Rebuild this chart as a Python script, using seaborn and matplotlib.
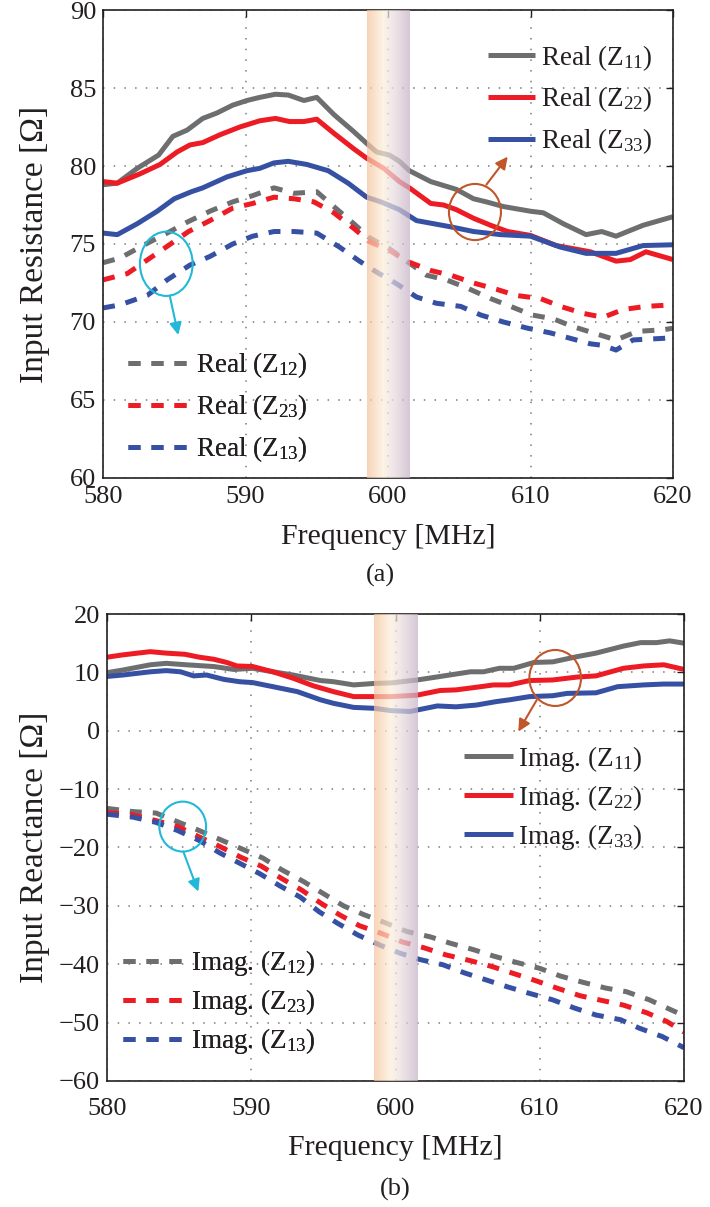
import numpy as np
import pandas as pd
import matplotlib
matplotlib.use("Agg")
import matplotlib.pyplot as plt
import seaborn as sns
from matplotlib.patches import Ellipse
from matplotlib.colors import LinearSegmentedColormap

# ---------------- data (a) : input resistance ----------------
R11_f = [580, 581.0, 582.4, 583.9, 584.9, 585.9, 587.0, 588.0, 589.1, 590.1, 591.0, 592.1, 593.0, 594.1, 595.0, 596.2, 597.6, 598.5, 599.2, 600.1, 600.8, 601.5, 603.0, 604.8, 606.0, 606.9, 608.1, 610.0, 610.9, 612.3, 613.9, 615.0, 616.0, 617.9, 620]
R11 = [78.8, 78.9, 79.85, 80.7, 81.9, 82.3, 83.05, 83.4, 83.9, 84.2, 84.4, 84.6, 84.55, 84.2, 84.4, 83.3, 82.2, 81.45, 80.9, 80.7, 80.3, 79.7, 79.0, 78.5, 77.9, 77.7, 77.4, 77.1, 77.0, 76.3, 75.6, 75.8, 75.5, 76.2, 76.75]

R22_f = [580, 581.0, 582.6, 584.0, 585.2, 586.1, 587.0, 588.2, 589.6, 591.0, 592.1, 593.1, 594.1, 595.0, 596.2, 597.6, 598.5, 599.7, 600.8, 601.5, 603.0, 603.9, 604.8, 606.0, 607.2, 608.4, 610.0, 611.8, 614.2, 616.0, 617.0, 618.1, 620]
R22 = [79.0, 78.9, 79.5, 80.1, 80.9, 81.35, 81.5, 82.0, 82.5, 82.9, 83.05, 82.85, 82.85, 83.0, 82.1, 81.1, 80.5, 79.85, 79.0, 78.6, 77.6, 77.5, 77.2, 76.65, 76.2, 75.8, 75.55, 74.9, 74.5, 73.9, 74.0, 74.5, 74.0]

R33_f = [580, 581.0, 582.4, 583.8, 585.0, 586.2, 587.0, 588.7, 590.1, 591.0, 592.0, 593.0, 594.3, 595.8, 597.2, 598.5, 599.5, 600.8, 602.0, 604.4, 606.0, 607.9, 610.0, 612.1, 613.9, 615.1, 616.0, 617.9, 620]
R33 = [75.7, 75.6, 76.3, 77.1, 77.9, 78.35, 78.6, 79.3, 79.7, 79.85, 80.2, 80.3, 80.1, 79.7, 78.9, 78.0, 77.7, 77.2, 76.5, 76.1, 75.8, 75.6, 75.5, 74.8, 74.4, 74.4, 74.4, 74.9, 74.95]

R12_f = [580, 581.2, 582.8, 584.5, 585.9, 587.5, 589.1, 590.5, 592.0, 593.4, 595.0, 596.2, 597.6, 598.7, 600.1, 601.3, 602.7, 604.1, 605.5, 607.2, 608.6, 610.1, 611.6, 613.0, 614.4, 616.0, 617.5, 619.3, 620]
R12 = [73.8, 74.1, 74.9, 75.7, 76.4, 77.1, 77.7, 78.1, 78.6, 78.25, 78.35, 77.4, 76.3, 75.4, 74.7, 73.9, 73.0, 72.7, 72.2, 71.5, 71.0, 70.45, 70.2, 69.7, 69.3, 68.85, 69.4, 69.5, 69.6]

R23_f = [580, 581.7, 583.3, 584.5, 586.0, 587.5, 589.1, 590.5, 592.0, 593.4, 594.8, 596.2, 597.6, 598.7, 600.1, 601.3, 603.0, 604.4, 606.0, 607.6, 609.0, 610.7, 612.1, 613.7, 615.1, 616.5, 618.1, 620]
R23 = [72.7, 73.1, 74.1, 74.85, 75.8, 76.5, 77.3, 77.6, 78.0, 77.9, 77.7, 77.0, 76.0, 75.15, 74.6, 73.9, 73.3, 73.0, 72.5, 72.1, 71.7, 71.5, 71.0, 70.55, 70.3, 70.8, 71.0, 71.1]

R13_f = [580, 581.2, 583.1, 584.5, 586.1, 587.5, 589.1, 590.5, 592.0, 593.4, 595.0, 596.6, 598.0, 599.2, 600.6, 602.0, 603.4, 605.1, 606.5, 608.1, 609.8, 611.4, 612.8, 614.2, 615.1, 616.0, 617.2, 619.3, 620]
R13 = [70.9, 71.1, 71.7, 72.7, 73.65, 74.2, 75.0, 75.5, 75.8, 75.8, 75.7, 74.8, 73.9, 73.2, 72.45, 71.6, 71.2, 71.0, 70.45, 70.0, 69.6, 69.3, 68.95, 68.6, 68.5, 68.2, 68.85, 68.95, 69.0]

# ---------------- data (b) : input reactance ----------------
I11_f = [580, 581.1, 583.0, 584.1, 585.5, 587.4, 588.8, 590.1, 591.5, 592.9, 594.8, 595.7, 597.1, 598.5, 599.7, 601.5, 603.1, 605.2, 606.1, 607.2, 608.2, 609.6, 610.9, 612.6, 613.9, 615.8, 617.0, 618.1, 619.0, 620]
I11 = [9.95, 10.4, 11.3, 11.55, 11.3, 11.0, 10.5, 10.7, 10.1, 9.55, 8.6, 8.4, 7.85, 8.1, 8.2, 8.7, 9.3, 10.1, 10.1, 10.7, 10.7, 11.7, 11.8, 12.7, 13.3, 14.5, 15.1, 15.1, 15.4, 15.0]

I22_f = [580, 581.1, 583.0, 584.1, 585.4, 586.4, 587.4, 588.3, 589.0, 590.1, 591.5, 592.9, 594.3, 595.7, 597.1, 598.5, 599.7, 601.5, 603.1, 604.2, 605.6, 606.8, 607.9, 609.3, 610.9, 612.6, 613.9, 615.8, 617.2, 618.6, 620]
I22 = [12.6, 13.0, 13.55, 13.3, 13.1, 12.6, 12.25, 11.7, 11.1, 11.0, 10.1, 9.0, 7.7, 6.7, 5.85, 5.85, 5.85, 6.1, 6.9, 7.0, 7.45, 7.85, 7.85, 8.6, 8.7, 9.2, 9.4, 10.7, 11.1, 11.3, 10.5]

I33_f = [580, 581.1, 583.0, 584.1, 585.1, 586.0, 586.9, 588.1, 589.2, 590.1, 592.0, 593.2, 594.8, 595.7, 597.1, 598.5, 599.7, 601.0, 602.9, 604.2, 605.6, 607.0, 607.9, 609.3, 610.9, 611.9, 613.9, 615.4, 617.2, 618.6, 620]
I33 = [9.3, 9.55, 10.1, 10.3, 10.1, 9.4, 9.55, 8.8, 8.4, 8.25, 7.3, 6.7, 5.3, 4.7, 4.0, 3.85, 3.45, 3.3, 4.25, 4.1, 4.4, 5.0, 5.3, 5.85, 6.0, 6.4, 6.5, 7.55, 7.85, 8.0, 8.0]

I12_f = [580, 581.8, 583.4, 584.9, 586.3, 587.9, 589.4, 590.8, 592.1, 593.6, 595.0, 596.4, 597.8, 599.3, 600.8, 602.4, 603.8, 605.4, 606.8, 608.4, 610.0, 611.4, 613.0, 614.6, 616.0, 617.6, 619.0, 620]
I12 = [-13.3, -13.85, -14.1, -15.6, -17.0, -18.7, -20.3, -21.8, -23.8, -25.8, -27.9, -30.0, -31.5, -32.9, -34.4, -35.3, -36.4, -37.5, -38.6, -39.7, -40.7, -42.0, -43.1, -44.1, -44.7, -46.1, -47.7, -48.8]

I23_f = [580, 581.8, 583.4, 584.9, 586.4, 587.8, 589.3, 590.7, 592.1, 593.5, 594.8, 596.1, 597.5, 599.0, 600.5, 602.0, 603.5, 605.2, 606.7, 608.2, 609.7, 611.2, 612.8, 614.3, 615.8, 617.4, 618.8, 620]
I23 = [-14.0, -14.4, -15.4, -16.4, -18.2, -19.8, -21.7, -23.2, -25.3, -27.3, -29.5, -31.5, -33.4, -34.7, -36.2, -37.2, -38.4, -39.4, -40.4, -41.6, -42.8, -44.1, -45.4, -46.2, -47.0, -48.3, -49.8, -51.6]

I13_f = [580, 581.8, 583.4, 584.9, 586.4, 587.8, 589.2, 590.6, 592.0, 593.4, 594.7, 596.0, 597.4, 598.9, 600.3, 601.7, 603.3, 604.8, 606.3, 607.8, 609.3, 610.9, 612.4, 613.9, 615.6, 616.9, 618.5, 620]
I13 = [-14.3, -14.8, -15.7, -17.1, -18.8, -20.9, -22.7, -24.5, -26.6, -28.5, -31.0, -33.0, -35.0, -36.7, -38.1, -39.2, -40.1, -41.5, -42.7, -43.9, -45.0, -46.1, -47.5, -48.7, -49.5, -50.95, -52.4, -54.3]

band = [598.5, 601.5]
xticks = [580, 590, 600, 610, 620]
yticks_a = [60, 65, 70, 75, 80, 85, 90]
yticks_b = [-60, -50, -40, -30, -20, -10, 0, 10, 20]

# ---------------- style ----------------
sns.set_theme(style="white")
plt.rcParams['font.family'] = ['Liberation Serif', 'DejaVu Serif']
plt.rcParams['mathtext.fontset'] = 'custom'
plt.rcParams['mathtext.rm'] = 'Liberation Serif'
plt.rcParams['mathtext.it'] = 'Liberation Serif'

GRAY = '#6d6e70'
RED = '#ed1c24'
BLUE = '#3651a3'
TXT = '#231f20'
LW = 3.6
DASH = (0, (2.4, 2.2))

fig = plt.figure(figsize=(7.10, 12.07), dpi=100)
axA = fig.add_axes([0.1451, 0.6040, 0.8028, 0.3877])
axB = fig.add_axes([0.1507, 0.1044, 0.8127, 0.3869])

band_cmap = LinearSegmentedColormap.from_list(
    'band', [(0.0, '#f5c39c'), (0.38, '#fdf0dc'), (0.62, '#e9dde0'), (1.0, '#c6b2c5')])


def draw(ax, series, ylim, yticks, xpad):
    for f, v, c, ls in series:
        d = pd.DataFrame({'f': f, 'v': v})
        sns.lineplot(data=d, x='f', y='v', ax=ax, color=c, linewidth=LW,
                     linestyle=ls, estimator=None, sort=False,
                     solid_capstyle='butt', dash_capstyle='butt', zorder=2)
    grad = np.linspace(0, 1, 256).reshape(1, -1)
    ax.imshow(grad, cmap=band_cmap, extent=[band[0], band[1], ylim[0], ylim[1]],
              aspect='auto', alpha=0.72, zorder=3, interpolation='bicubic')
    ax.set_xlim(580, 620)
    ax.set_ylim(*ylim)
    ax.set_xticks(xticks)
    ax.set_yticks(yticks)
    ax.grid(True, color='#7a7a7a', linestyle=(0, (1, 6)), linewidth=1.1)
    ax.tick_params(direction='in', length=5, width=1, top=True, right=True,
                   labelsize=19, colors=TXT, pad=5)
    ax.tick_params(axis='x', pad=xpad)
    for s in ax.spines.values():
        s.set_color('#231f20')
        s.set_linewidth(1.2)
    ax.set_xlabel('Frequency [MHz]', fontsize=21.5, color=TXT, labelpad=11)


serA = [(R11_f, R11, GRAY, '-'), (R22_f, R22, RED, '-'), (R33_f, R33, BLUE, '-'),
        (R12_f, R12, GRAY, DASH), (R23_f, R23, RED, DASH), (R13_f, R13, BLUE, DASH)]
serB = [(I11_f, I11, GRAY, '-'), (I22_f, I22, RED, '-'), (I33_f, I33, BLUE, '-'),
        (I12_f, I12, GRAY, DASH), (I23_f, I23, RED, DASH), (I13_f, I13, BLUE, DASH)]

draw(axA, serA, (60, 90), yticks_a, 6)
draw(axB, serB, (-60, 20), yticks_b, 12)
axA.set_ylabel('Input Resistance [Ω]', fontsize=24, color=TXT, labelpad=14)
axB.set_ylabel('Input Reactance [Ω]', fontsize=24, color=TXT, labelpad=6)
axB.set_yticklabels([f'{t:d}'.replace('-', '−') for t in yticks_b])

fig.text(0.5354, 1 - 575 / 1207, '(a)', fontsize=19, color=TXT, ha='center', va='center')
fig.text(0.5570, 1 - 1189 / 1207, '(b)', fontsize=19, color=TXT, ha='center', va='center')


def legend(ax, idx, labels, x, y, hl, spacing):
    lines = ax.get_lines()
    h = [lines[i] for i in idx]
    lg = ax.legend(h, labels, loc='upper left', bbox_to_anchor=(x, y), frameon=False,
                   fontsize=19.5, handlelength=hl, handletextpad=0.2, borderpad=0,
                   borderaxespad=0, labelspacing=spacing, labelcolor=TXT)
    lg.set_zorder(6)
    ax.add_artist(lg)


legend(axA, [0, 1, 2], [r'Real (Z$_\mathrm{11}$)', r'Real (Z$_\mathrm{22}$)', r'Real (Z$_\mathrm{33}$)'],
       0.675, 0.930, 1.75, 0.45)
legend(axA, [3, 4, 5], [r'Real (Z$_\mathrm{12}$)', r'Real (Z$_\mathrm{23}$)', r'Real (Z$_\mathrm{13}$)'],
       0.044, 0.272, 2.3, 0.45)
legend(axB, [0, 1, 2], [r'Imag. (Z$_\mathrm{11}$)', r'Imag. (Z$_\mathrm{22}$)', r'Imag. (Z$_\mathrm{33}$)'],
       0.619, 0.722, 1.8, 0.33)
legend(axB, [3, 4, 5], [r'Imag. (Z$_\mathrm{12}$)', r'Imag. (Z$_\mathrm{23}$)', r'Imag. (Z$_\mathrm{13}$)'],
       0.028, 0.284, 2.3, 0.33)

BROWN = '#c0562a'
CYAN = '#22b8d8'


def mark(ax, cx, cy, w, h, start, tip, col):
    ax.add_patch(Ellipse((cx, cy), w, h, fill=False, edgecolor=col, linewidth=1.5, zorder=5))
    ax.annotate('', xy=tip, xytext=start,
                arrowprops=dict(arrowstyle='-|>', color=col, lw=1.5, mutation_scale=18,
                                shrinkA=0, shrinkB=0), zorder=5)


mark(axA, 606.1, 77.05, 3.65, 3.6, (606.9, 78.8), (608.4, 80.6), BROWN)
mark(axA, 584.44, 73.73, 3.7, 4.12, (584.68, 71.7), (585.28, 69.17), CYAN)
mark(axB, 611.07, 9.04, 3.58, 9.59, (609.79, 5.27), (608.51, -0.15), BROWN)
mark(axB, 585.25, -16.42, 3.24, 8.56, (585.29, -20.7), (586.33, -27.55), CYAN)

fig.savefig('out.png', dpi=100)
